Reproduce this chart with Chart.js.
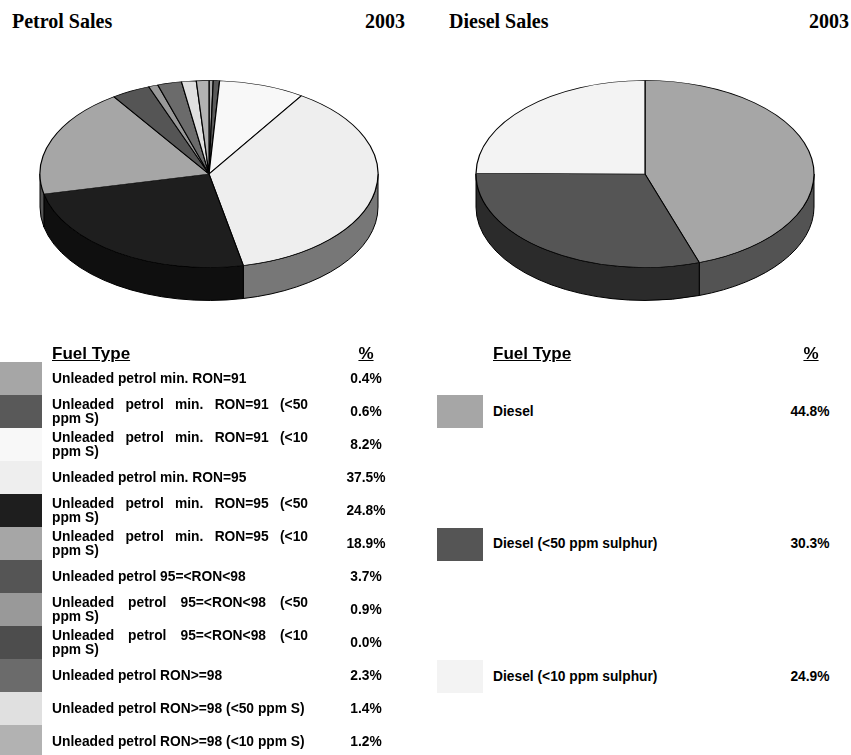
<!DOCTYPE html>
<html>
<head>
<meta charset="UTF-8">
<title>Petrol and Diesel Sales 2003</title>
<script src="https://cdn.jsdelivr.net/npm/chart.js"></script>
<style>
  body { margin: 0; background: #fff; width: 851px; height: 755px; overflow: hidden; position: relative;
         font-family: "Liberation Sans", Arial, sans-serif; color: #000; }
  .title { position: absolute; top: 11px; font: bold 20px/20px "Liberation Serif", "Times New Roman", serif; white-space: nowrap; }
  canvas { position: absolute; top: 0; }
  .head { position: absolute; top: 344px; height: 20px; line-height: 20px; font-weight: bold; font-size: 17px; text-decoration: underline; }
  .cell { position: absolute; height: 33px; display: flex; align-items: center; font-weight: bold; font-size: 13.8px; line-height: 14px; }
  .cell div { width: 100%; text-align: justify; }
  .pct div { text-align: center; }
  .swatch { position: absolute; height: 33px; }
</style>
</head>
<body>

<div class="title" style="left:12px">Petrol Sales</div>
<div class="title" style="left:305px;width:100px;text-align:right">2003</div>
<div class="title" style="left:449px">Diesel Sales</div>
<div class="title" style="left:749px;width:100px;text-align:right">2003</div>

<canvas id="petrolChart" width="350" height="348" style="left:34px"></canvas>
<canvas id="dieselChart" width="350" height="348" style="left:470px"></canvas>

<div class="head" style="left:52px">Fuel Type</div>
<div class="head" style="left:336px;width:60px;text-align:center">%</div>
<div class="head" style="left:493px">Fuel Type</div>
<div class="head" style="left:781px;width:60px;text-align:center">%</div>

<div id="legends"></div>

<script>
  const petrolLabels = [
    'Unleaded petrol min. RON=91',
    'Unleaded petrol min. RON=91 (<50 ppm S)',
    'Unleaded petrol min. RON=91 (<10 ppm S)',
    'Unleaded petrol min. RON=95',
    'Unleaded petrol min. RON=95 (<50 ppm S)',
    'Unleaded petrol min. RON=95 (<10 ppm S)',
    'Unleaded petrol 95=<RON<98',
    'Unleaded petrol 95=<RON<98 (<50 ppm S)',
    'Unleaded petrol 95=<RON<98 (<10 ppm S)',
    'Unleaded petrol RON>=98',
    'Unleaded petrol RON>=98 (<50 ppm S)',
    'Unleaded petrol RON>=98 (<10 ppm S)'
  ];
  const petrolValues = [0.4, 0.6, 8.2, 37.5, 24.8, 18.9, 3.7, 0.9, 0.0, 2.3, 1.4, 1.2];
  const petrolColors = ['#a6a6a6', '#595959', '#f8f8f8', '#eeeeee', '#1e1e1e', '#a6a6a6',
                        '#555555', '#999999', '#4d4d4d', '#6b6b6b', '#e0e0e0', '#b2b2b2'];

  const dieselLabels = ['Diesel', 'Diesel (<50 ppm sulphur)', 'Diesel (<10 ppm sulphur)'];
  const dieselValues = [44.8, 30.3, 24.9];
  const dieselColors = ['#a6a6a6', '#555555', '#f3f3f3'];

  const TILT = 0.553;   // vertical squash of the pie top
  const DEPTH = 33;     // height of the side wall in px

  function darker(hex) {
    const n = parseInt(hex.slice(1), 16);
    const r = Math.round(((n >> 16) & 255) * 0.5);
    const g = Math.round(((n >> 8) & 255) * 0.5);
    const b = Math.round((n & 255) * 0.5);
    return 'rgb(' + r + ',' + g + ',' + b + ')';
  }

  // fake 3d: draw the front wall from the arc geometry, then squash the top
  const pie3d = {
    id: 'pie3d',
    beforeDatasetsDraw(chart) {
      const ctx = chart.ctx;
      const arcs = chart.getDatasetMeta(0).data;
      const colors = chart.data.datasets[0].backgroundColor;
      ctx.save();
      ctx.lineWidth = 1;
      ctx.strokeStyle = '#000';
      arcs.forEach((el, i) => {
        const p = el.getProps(['x', 'y', 'startAngle', 'endAngle', 'outerRadius'], true);
        const a = Math.max(p.startAngle, 0);
        const b = Math.min(p.endAngle, Math.PI);
        if (b <= a) return;
        const ry = p.outerRadius * TILT;
        ctx.beginPath();
        ctx.ellipse(p.x, p.y, p.outerRadius, ry, 0, a, b);
        ctx.ellipse(p.x, p.y + DEPTH, p.outerRadius, ry, 0, b, a, true);
        ctx.closePath();
        ctx.fillStyle = darker(colors[i]);
        ctx.fill();
        ctx.stroke();
      });
      ctx.restore();
      const cy = (chart.chartArea.top + chart.chartArea.bottom) / 2;
      ctx.save();
      ctx.translate(0, cy);
      ctx.scale(1, TILT);
      ctx.translate(0, -cy);
    },
    afterDatasetsDraw(chart) {
      chart.ctx.restore();
    }
  };

  function makePie(id, labels, values, colors) {
    return new Chart(document.getElementById(id), {
      type: 'pie',
      data: {
        labels: labels,
        datasets: [{
          data: values,
          backgroundColor: colors,
          borderColor: '#000',
          borderWidth: 1.2
        }]
      },
      options: {
        responsive: false,
        animation: false,
        events: [],
        radius: 169,
        layout: { padding: 0 },
        plugins: { legend: { display: false }, tooltip: { enabled: false } }
      },
      plugins: [pie3d]
    });
  }

  makePie('petrolChart', petrolLabels, petrolValues, petrolColors);
  makePie('dieselChart', dieselLabels, dieselValues, dieselColors);

  function buildLegend(labels, values, colors, lay) {
    const box = document.getElementById('legends');
    labels.forEach((lab, i) => {
      const top = lay.top + lay.step * i;
      const sw = document.createElement('div');
      sw.className = 'swatch';
      sw.style.cssText = 'left:' + lay.swLeft + 'px;width:' + lay.swWidth + 'px;top:' + top + 'px;background:' + colors[i];
      box.appendChild(sw);

      const txt = document.createElement('div');
      txt.className = 'cell';
      txt.style.cssText = 'left:' + lay.textLeft + 'px;width:' + lay.textWidth + 'px;top:' + top + 'px';
      const inner = document.createElement('div');
      inner.textContent = lab;
      txt.appendChild(inner);
      box.appendChild(txt);

      const pct = document.createElement('div');
      pct.className = 'cell pct';
      pct.style.cssText = 'left:' + (lay.pctCenter - 40) + 'px;width:80px;top:' + top + 'px';
      const pin = document.createElement('div');
      pin.textContent = values[i].toFixed(1) + '%';
      pct.appendChild(pin);
      box.appendChild(pct);
    });
  }

  buildLegend(petrolLabels, petrolValues, petrolColors,
    { top: 362, step: 33, swLeft: 0, swWidth: 42, textLeft: 52, textWidth: 256, pctCenter: 366 });
  buildLegend(dieselLabels, dieselValues, dieselColors,
    { top: 395, step: 132.5, swLeft: 437, swWidth: 46, textLeft: 493, textWidth: 256, pctCenter: 810 });
</script>

</body>
</html>
